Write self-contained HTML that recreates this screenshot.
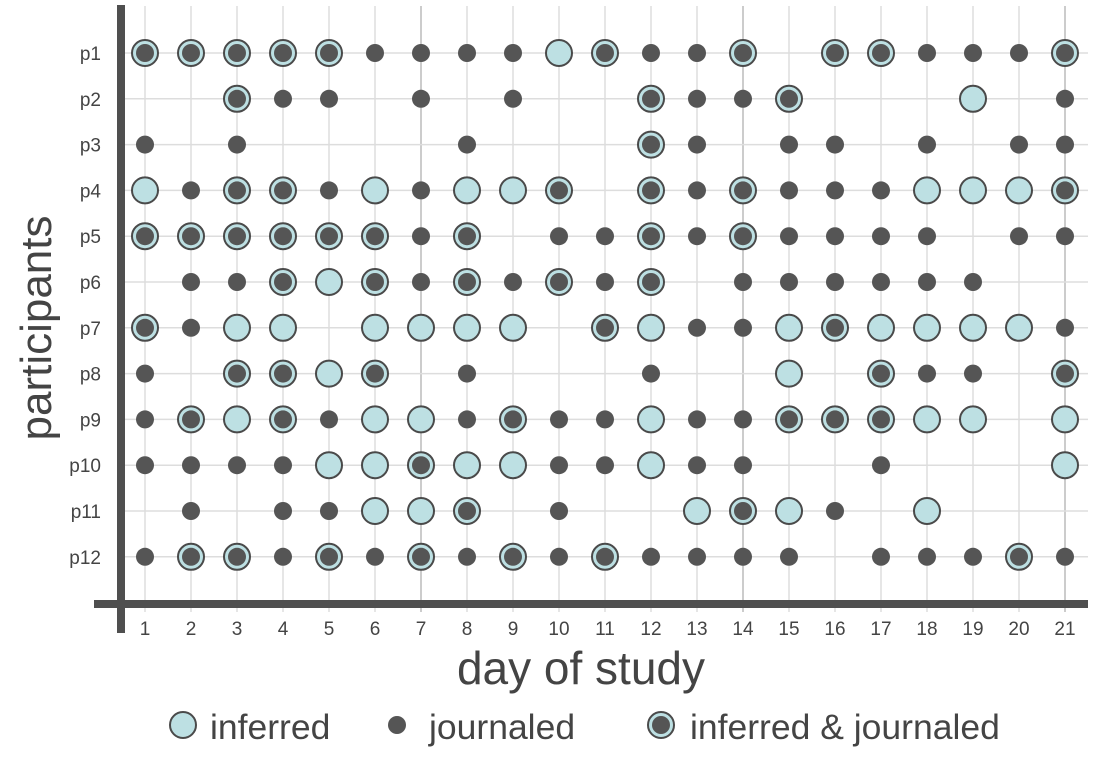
<!DOCTYPE html>
<html><head><meta charset="utf-8"><style>
body{margin:0;background:#fff;}
svg text{font-family:"Liberation Sans",Arial,sans-serif;fill:#444;}
</style></head><body>
<svg id="chart" width="1106" height="760" viewBox="0 0 1106 760" xmlns="http://www.w3.org/2000/svg">
<g id="grid"></g>
<g id="marks"></g>
<g id="axes"></g>
<text x="0" y="0" transform="translate(51,328) rotate(-90)" text-anchor="middle" font-size="44">participants</text>
<text x="581" y="684" text-anchor="middle" font-size="46">day of study</text>
<g>
<g>
<circle cx="183" cy="725" r="13" fill="#bde0e3" stroke="#4a4a4a" stroke-width="2"/>
<text x="210" y="739" font-size="35.5">inferred</text></g>
<g>
<circle cx="397" cy="725" r="9" fill="#555"/>
<text x="429" y="739" font-size="35.5">journaled</text></g>
<g>
<circle cx="661" cy="725" r="13" fill="#bde0e3" stroke="#4a4a4a" stroke-width="2"/>
<circle cx="661" cy="725" r="9" fill="#555"/>
<text x="690" y="739" font-size="35.5">inferred &amp; journaled</text></g>
</g>
</svg>
<script>
// 0 = none, 1 = inferred, 2 = journaled, 3 = inferred & journaled
const participants = ["p1","p2","p3","p4","p5","p6","p7","p8","p9","p10","p11","p12"];
const days = [1,2,3,4,5,6,7,8,9,10,11,12,13,14,15,16,17,18,19,20,21];
const p1 = [3,3,3,3,3,2,2,2,2,1,3,2,2,3,0,3,3,2,2,2,3];
const p2 = [0,0,3,2,2,0,2,0,2,0,0,3,2,2,3,0,0,0,1,0,2];
const p3 = [2,0,2,0,0,0,0,2,0,0,0,3,2,0,2,2,0,2,0,2,2];
const p4 = [1,2,3,3,2,1,2,1,1,3,0,3,2,3,2,2,2,1,1,1,3];
const p5 = [3,3,3,3,3,3,2,3,0,2,2,3,2,3,2,2,2,2,0,2,2];
const p6 = [0,2,2,3,1,3,2,3,2,3,2,3,0,2,2,2,2,2,2,0,0];
const p7 = [3,2,1,1,0,1,1,1,1,0,3,1,2,2,1,3,1,1,1,1,2];
const p8 = [2,0,3,3,1,3,0,2,0,0,0,2,0,0,1,0,3,2,2,0,3];
const p9 = [2,3,1,3,2,1,1,2,3,2,2,1,2,2,3,3,3,1,1,0,1];
const p10 = [2,2,2,2,1,1,3,1,1,2,2,1,2,2,0,0,2,0,0,0,1];
const p11 = [0,2,0,2,2,1,1,3,0,2,0,0,1,3,1,2,0,1,0,0,0];
const p12 = [2,3,3,2,3,2,3,2,3,2,3,2,2,2,2,0,2,2,2,3,2];
const status = [p1,p2,p3,p4,p5,p6,p7,p8,p9,p10,p11,p12];

const NS="http://www.w3.org/2000/svg";
const x = d => 145 + (d-1)*46;
const y = i => 53 + i*45.8;
function mk(tag, attrs, parent){const e=document.createElementNS(NS,tag);for(const k in attrs)e.setAttribute(k,attrs[k]);parent.appendChild(e);return e;}
const grid=document.getElementById('grid'), marks=document.getElementById('marks'), axes=document.getElementById('axes');

days.forEach(d=>{
  const l=mk('line',{x1:x(d),x2:x(d),y1:6,y2:612,stroke:(d%7===0)?'#bbb':'#ddd','stroke-width':1.5},grid);
  
  
  const t=mk('text',{x:x(d),y:635,'text-anchor':'middle','font-size':19},axes);
  t.textContent=d;
  
  
});
participants.forEach((p,i)=>{
  const l=mk('line',{x1:121,x2:1088,y1:y(i),y2:y(i),stroke:'#ddd','stroke-width':1.5},grid);
  
  
  const t=mk('text',{x:101,y:y(i)+7,'text-anchor':'end','font-size':19},axes);
  t.textContent=p;
  
  
  status[i].forEach((s,j)=>{
    if(!s) return;
    const cx=x(days[j]), cy=y(i);
    const g=mk('g',{},marks);
    
    
    if(s===1||s===3) mk('circle',{cx,cy,r:13,fill:'#bde0e3',stroke:'#4a4a4a','stroke-width':2},g);
    if(s===2||s===3) mk('circle',{cx,cy,r:9,fill:'#555'},g);
  });
});
const ya=mk('rect',{x:117,y:5,width:8,height:628,fill:'#4f4f4f'},axes);


const xa=mk('rect',{x:94,y:600,width:994,height:8,fill:'#4f4f4f'},axes);


</script>
</body></html>
